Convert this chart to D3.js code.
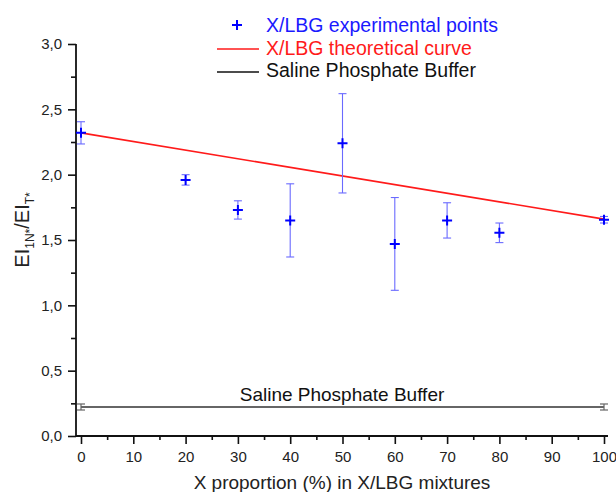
<!DOCTYPE html>
<html><head><meta charset="utf-8">
<script src="https://cdn.jsdelivr.net/npm/d3@7"></script>
<style>
html,body{margin:0;padding:0;background:#fff;}
text{font-family:"Liberation Sans",Arial,sans-serif;}
</style></head>
<body>
<svg id="chart" width="616" height="492"></svg>
<script>
// ---- data ----
const expX = [0, 20, 30, 40, 50, 60, 70, 80, 100];
const expY = [2.32, 1.96, 1.73, 1.65, 2.24, 1.47, 1.65, 1.555, 1.655];
const expErr = [0.085, 0.04, 0.07, 0.28, 0.38, 0.355, 0.135, 0.075, 0.025];
const theoX = [0, 100];
const theoY = [2.32, 1.66];
const pbsX = [0, 100];
const pbsY = [0.222, 0.222];
const pbsErr = [0.023, 0.023];
const xTicks = [0, 10, 20, 30, 40, 50, 60, 70, 80, 90, 100];
const yTicks = [0, 0.5, 1.0, 1.5, 2.0, 2.5, 3.0];
const legendLabels = ["X/LBG experimental points", "X/LBG theoretical curve", "Saline Phosphate Buffer"];

const svg = d3.select("#chart");
const x = d3.scaleLinear().domain([0, 100]).range([81, 604]);
const y = d3.scaleLinear().domain([0, 3]).range([436, 44]);
const fmt = d => d.toFixed(1).replace(".", ",");

// axes
const gx = svg.append("g").attr("transform", "translate(0,436)");
gx.call(d3.axisBottom(x).tickValues(xTicks).tickSize(8).tickSizeOuter(0).tickPadding(7).tickFormat(d => d));
gx.append("g").call(d3.axisBottom(x).tickValues(d3.range(5, 100, 10)).tickSize(4).tickFormat(""))
  .select(".domain").remove();
gx.select(".domain").attr("d", "M76,0H608");
const gy = svg.append("g").attr("transform", "translate(76,0)");
gy.call(d3.axisLeft(y).tickValues(yTicks).tickSize(8).tickSizeOuter(0).tickPadding(6).tickFormat(fmt));
gy.append("g").call(d3.axisLeft(y).tickValues(d3.range(0.25, 3, 0.5)).tickSize(5).tickFormat(""))
  .select(".domain").remove();
gy.select(".domain").attr("d", "M0,44V436");
svg.selectAll(".domain").attr("stroke", "#111").attr("stroke-width", 1.8);
svg.selectAll(".tick line").attr("stroke", "#111").attr("stroke-width", 1.6);
svg.selectAll(".tick text").attr("font-size", 15).attr("fill", "#222")
  .attr("font-family", "Liberation Sans, Arial, sans-serif");

// axis titles
svg.append("text").attr("x", 342).attr("y", 489).attr("text-anchor", "middle")
  .attr("font-size", 19).attr("fill", "#222").text("X proportion (%) in X/LBG mixtures");
const yl = svg.append("text").attr("transform", "translate(29,230) rotate(-90)")
  .attr("text-anchor", "middle").attr("font-size", 20).attr("fill", "#222");
yl.append("tspan").text("EI");
yl.append("tspan").attr("font-size", 12).attr("dy", 5).text("1N*");
yl.append("tspan").attr("dy", -5).text("/EI");
yl.append("tspan").attr("font-size", 12).attr("dy", 5).text("T*");

// saline buffer
const pbs = pbsX.map((v, i) => ({x: v, y: pbsY[i], e: pbsErr[i]}));
svg.append("path").datum(pbs).attr("fill", "none").attr("stroke", "#333").attr("stroke-width", 1.5)
  .attr("d", d3.line().x(d => x(d.x)).y(d => y(d.y)));
const pe = svg.append("g").attr("stroke", "#666").attr("stroke-width", 1.2);
pbs.forEach(d => {
  pe.append("line").attr("x1", x(d.x)).attr("x2", x(d.x)).attr("y1", y(d.y + d.e)).attr("y2", y(d.y - d.e));
  pe.append("line").attr("x1", x(d.x) - 4).attr("x2", x(d.x) + 4).attr("y1", y(d.y + d.e)).attr("y2", y(d.y + d.e));
  pe.append("line").attr("x1", x(d.x) - 4).attr("x2", x(d.x) + 4).attr("y1", y(d.y - d.e)).attr("y2", y(d.y - d.e));
});
svg.append("text").attr("x", 342).attr("y", 401).attr("text-anchor", "middle")
  .attr("font-size", 19).attr("fill", "#111").text("Saline Phosphate Buffer");

// theoretical curve
const th = theoX.map((v, i) => ({x: v, y: theoY[i]}));
svg.append("path").datum(th).attr("fill", "none").attr("stroke", "#ff1a1a").attr("stroke-width", 1.6)
  .attr("d", d3.line().x(d => x(d.x)).y(d => y(d.y)));

// experimental points
const ex = expX.map((v, i) => ({x: v, y: expY[i], e: expErr[i]}));
const eb = svg.append("g").attr("stroke", "#6a6aff").attr("stroke-width", 1.1);
ex.forEach(d => {
  eb.append("line").attr("x1", x(d.x)).attr("x2", x(d.x)).attr("y1", y(d.y + d.e)).attr("y2", y(d.y - d.e));
  eb.append("line").attr("x1", x(d.x) - 4).attr("x2", x(d.x) + 4).attr("y1", y(d.y + d.e)).attr("y2", y(d.y + d.e));
  eb.append("line").attr("x1", x(d.x) - 4).attr("x2", x(d.x) + 4).attr("y1", y(d.y - d.e)).attr("y2", y(d.y - d.e));
});
const plus = (g, cx, cy) => g.append("path").attr("d", `M${cx - 5},${cy}H${cx + 5}M${cx},${cy - 5}V${cy + 5}`)
  .attr("stroke", "#0000ff").attr("stroke-width", 2).attr("fill", "none");
const mk = svg.append("g");
ex.forEach(d => plus(mk, x(d.x), y(d.y)));

// legend
const lg = svg.append("g");
plus(lg, 237, 25);
lg.append("line").attr("x1", 217).attr("x2", 259).attr("y1", 49).attr("y2", 49).attr("stroke", "#ff1a1a").attr("stroke-width", 1.5);
lg.append("line").attr("x1", 217).attr("x2", 259).attr("y1", 72).attr("y2", 72).attr("stroke", "#111").attr("stroke-width", 1.5);
const lcol = ["#1a1aff", "#ff1a1a", "#111"];
legendLabels.forEach((t, i) => lg.append("text").attr("x", 266).attr("y", 32 + i * 22.7)
  .attr("font-size", 19.5).attr("fill", lcol[i]).text(t));
</script>
</body></html>
